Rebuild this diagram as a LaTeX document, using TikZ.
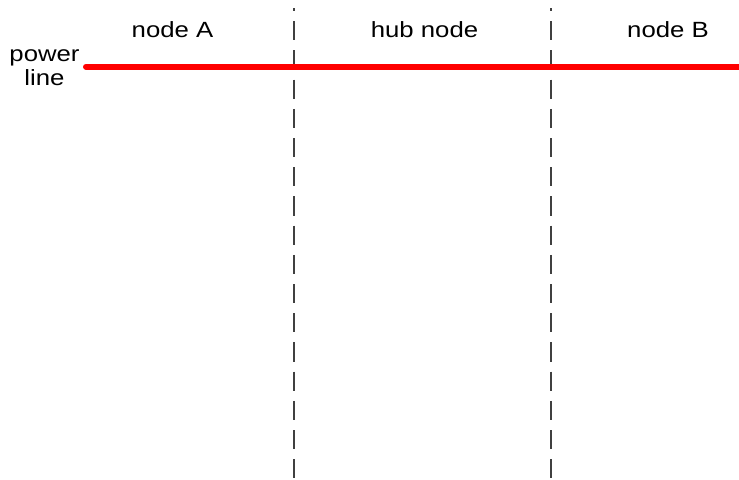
\documentclass[tikz,border=0pt]{standalone}
\usepackage{fontspec}
\setmainfont{Liberation Sans}[FakeStretch=1.17]

\begin{document}
\begin{tikzpicture}
    [x=0.75pt, y=-0.75pt,
     lbl/.style={font=\fontsize{16.5}{17.6}\selectfont, inner sep=0pt, anchor=base},
     border/.style={draw=black!75, line width=1.5pt, dash pattern=on 14.4pt off 7.5pt, dash phase=12pt},
     power/.style={draw=red, line width=4.5pt, line cap=round}]
    \useasboundingbox (0,0) rectangle (739,479);
    % section borders
    \coordinate (b1top) at (293.5,8);  \coordinate (b1bot) at (293.5,479);
    \coordinate (b2top) at (551,8);    \coordinate (b2bot) at (551,479);
    \draw[border] (b1top) -- (b1bot);
    \draw[border] (b2top) -- (b2bot);
    % the line itself
    \coordinate (pstart) at (86,66.7);
    \coordinate (pend) at (739,66.7);
    \draw[power] (pstart) -- (pend);
    % labels
    \node[lbl] (nodeA) at (172.5,37) {node A};
    \node[lbl] (hub) at (424.5,37) {hub node};
    \node[lbl] (nodeB) at (668,37) {node B};
    \node[lbl, align=center] (powerlbl) at (44.5,85) {power\\line};
\end{tikzpicture}
\end{document}
